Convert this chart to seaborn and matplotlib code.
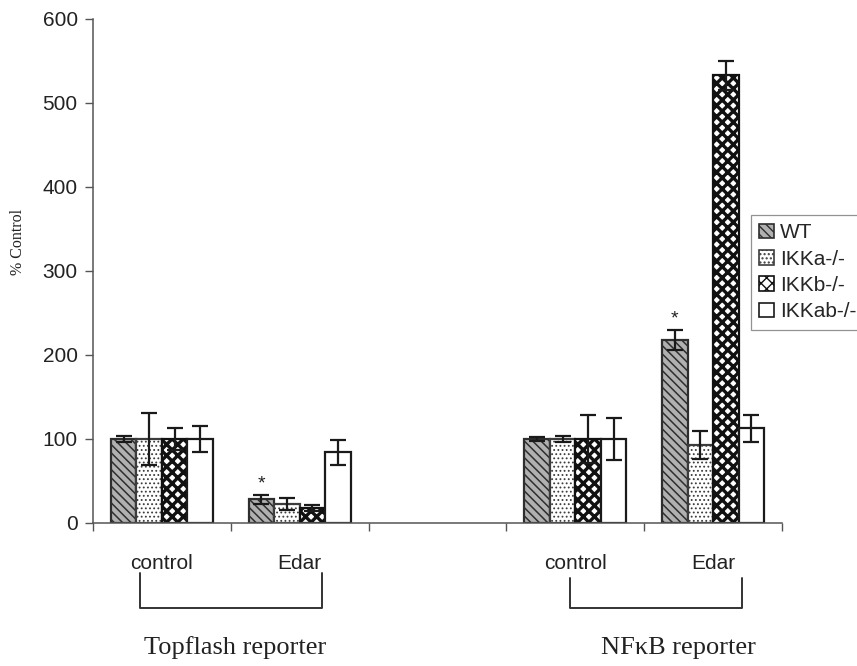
import numpy as np
import pandas as pd
import seaborn as sns
import matplotlib.pyplot as plt
from matplotlib.patches import Patch
from matplotlib.transforms import blended_transform_factory

# Conditions along the x axis (an empty slot separates the two reporters)
conditions = ["Topflash control", "Topflash Edar", "", "NFkB control", "NFkB Edar"]
condition_labels = ["control", "Edar", "", "control", "Edar"]
measured = ["Topflash control", "Topflash Edar", "NFkB control", "NFkB Edar"]
genotypes = ["WT", "IKKa-/-", "IKKb-/-", "IKKab-/-"]
reporters = ["Topflash reporter", "NF\u03baB reporter"]

# Mean activity (% of control) per genotype, in the order of `measured`
wt = [100, 28, 100, 218]
ikka = [100, 23, 100, 93]
ikkb = [100, 18, 100, 533]
ikkab = [100, 84, 100, 113]

# Error (±) per genotype
wt_err = [4, 5, 2, 12]
ikka_err = [31, 7, 3, 17]
ikkb_err = [13, 4, 28, 17]
ikkab_err = [15, 15, 25, 16]

# Significance marks (WT in the Edar conditions)
starred = [("Topflash Edar", "WT"), ("NFkB Edar", "WT")]

yticks = [0, 100, 200, 300, 400, 500, 600]

values = {"WT": wt, "IKKa-/-": ikka, "IKKb-/-": ikkb, "IKKab-/-": ikkab}
errors = {"WT": wt_err, "IKKa-/-": ikka_err, "IKKb-/-": ikkb_err, "IKKab-/-": ikkab_err}

rows = []
for g in genotypes:
    for c, v, e in zip(measured, values[g], errors[g]):
        rows.append({"condition": c, "genotype": g, "value": v, "err": e})
df = pd.DataFrame(rows)

sns.set_style("white")
plt.rcParams["font.family"] = ["Liberation Sans", "DejaVu Sans"]

fig = plt.figure(figsize=(8.57, 6.66), dpi=100)
ax = fig.add_axes([93 / 857, 1 - 523 / 666, (782 - 93) / 857, (523 - 19) / 666])

faces = {"WT": "#b0b0b0", "IKKa-/-": "white", "IKKb-/-": "white", "IKKab-/-": "white"}
edges = {"WT": "#2e2e2e", "IKKa-/-": "#3c3c3c", "IKKb-/-": "#111111", "IKKab-/-": "#1a1a1a"}
hatches = {"WT": "\\\\\\\\", "IKKa-/-": "....", "IKKb-/-": "xxx", "IKKab-/-": ""}
hatch_lw = {"WT": 1.1, "IKKa-/-": 0.8, "IKKb-/-": 2.4, "IKKab-/-": 1.0}

sns.barplot(data=df, x="condition", y="value", hue="genotype",
            order=conditions, hue_order=genotypes, width=0.74,
            errorbar=None, palette=[faces[g] for g in genotypes],
            saturation=1, legend=False, ax=ax)

lookup = df.set_index(["condition", "genotype"])
for g, cont in zip(genotypes, ax.containers):
    for bar in cont:
        bar.set_facecolor(faces[g])
        bar.set_edgecolor(edges[g])
        bar.set_linewidth(1.6)
        bar.set_hatch(hatches[g])
        if hasattr(bar, "set_hatch_linewidth"):
            bar.set_hatch_linewidth(hatch_lw[g])
        xc = bar.get_x() + bar.get_width() / 2
        cond = conditions[int(round(xc))]
        row = lookup.loc[(cond, g)]
        ax.errorbar(xc, row["value"], yerr=row["err"], fmt="none",
                    ecolor="#1a1a1a", elinewidth=1.6, capsize=5.5,
                    capthick=1.6, zorder=5)
        if (cond, g) in starred:
            ax.annotate("*", xy=(xc, row["value"] + row["err"]),
                        xytext=(0, 8), textcoords="offset points",
                        ha="center", va="center", fontsize=14, color="#222")

ax.set_xlim(-0.5, len(conditions) - 0.5)
ax.set_ylim(0, 600)
ax.set_yticks(yticks)
ax.set_yticklabels([str(t) for t in yticks], fontsize=15, color="#222")
ax.set_xticks(range(len(conditions)))
ax.set_xticklabels(condition_labels, fontsize=15, color="#222")
ax.set_xticks(np.arange(-0.5, len(conditions)), minor=True)
ax.tick_params(axis="x", which="major", length=0, pad=22)
ax.tick_params(axis="x", which="minor", length=6, width=1, color="#555",
               direction="out", bottom=True)
ax.tick_params(axis="y", length=6, width=1, color="#555", direction="out",
               left=True, pad=5)
ax.set_xlabel("")
ax.set_ylabel("")
for side in ["top", "right"]:
    ax.spines[side].set_visible(False)
for side in ["left", "bottom"]:
    ax.spines[side].set_color("#555")
    ax.spines[side].set_linewidth(1.1)

fig.text(18 / 857, 1 - 242 / 666, "% Control", rotation=90, ha="center",
         va="center", fontsize=11.5, family=["Liberation Serif"], color="#222")

# Brackets grouping conditions by reporter
trans = blended_transform_factory(ax.transData, fig.transFigure)
brackets = [(-0.16, 1.16, 1 - 573 / 666), (2.96, 4.21, 1 - 578 / 666)]
y_low = 1 - 608 / 666
for x0, x1, ytop in brackets:
    ax.plot([x0, x0, x1, x1], [ytop, y_low, y_low, ytop], color="#333",
            lw=1.4, transform=trans, clip_on=False)
for xpos, name in zip([0.53, 3.75], reporters):
    ax.text(xpos, 1 - 648 / 666, name, transform=trans, ha="center",
            va="center", fontsize=19, family=["Liberation Serif", "DejaVu Serif"],
            color="#222")

handles = []
for g in genotypes:
    p = Patch(facecolor=faces[g], edgecolor=edges[g], hatch=hatches[g], lw=1.2)
    handles.append(p)
leg = fig.legend(handles, genotypes, loc="upper left",
                 bbox_to_anchor=(751 / 857, 1 - 215 / 666), fontsize=15,
                 frameon=True, fancybox=False, edgecolor="#777",
                 handlelength=0.7, handleheight=0.7, handletextpad=0.3,
                 labelspacing=0.35, borderpad=0.4, borderaxespad=0)
leg.get_frame().set_linewidth(0.9)

fig.savefig("out.png", dpi=100, facecolor="white")
